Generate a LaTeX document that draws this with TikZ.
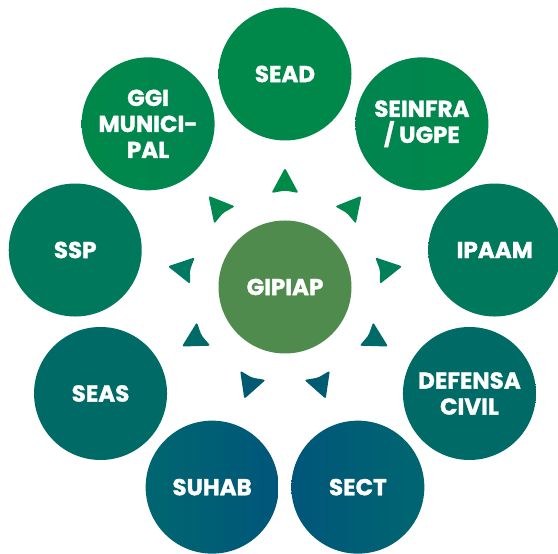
\documentclass[tikz,border=0pt]{standalone}
\usepackage{fontspec}
\setmainfont{Poppins}[BoldFeatures={FakeBold=1.3}]
\usetikzlibrary{calc}
\definecolor{centro}{HTML}{4F8B4D}
\definecolor{verdeA}{HTML}{00884A}
\definecolor{verdeB}{HTML}{008550}
\definecolor{verdeC}{HTML}{00785B}
\definecolor{tealA}{HTML}{006B66}
\definecolor{tealB}{HTML}{006670}
\definecolor{azul}{HTML}{00567A}
\definecolor{setaA}{HTML}{008A48}
\definecolor{setaB}{HTML}{00884F}
\definecolor{setaC}{HTML}{007F58}
\definecolor{setaD}{HTML}{006A68}
\definecolor{setaE}{HTML}{005A72}
\definecolor{setaF}{HTML}{007A62}
\begin{document}
\begin{tikzpicture}[x=1pt, y=1pt, line join=round,
	font=\fontsize{23}{26}\selectfont\bfseries,
	orgao/.style={circle, minimum size=133pt, inner sep=0pt, align=center, text=white}]
	\useasboundingbox (0,0) rectangle (558,554);
	\def\R{213}
	\def\d{105}
	% centro
	\node[orgao, fill=centro] (gipiap) at (285,267) {GIPIAP};
	% orgaos em volta
	\foreach \n/\a/\corE/\corD/\t in {
		sead/90/verdeA/verdeA/{SEAD},
		seinfra/50/verdeB/verdeA/{SEINFRA\\/ UGPE},
		ipaam/10/verdeC/verdeC/{IPAAM},
		defesa/-30/tealA/tealA/{DEFENSA\\CIVIL},
		sect/-70/azul/tealB/{SECT},
		suhab/-110/tealB/azul/{SUHAB},
		seas/-150/tealA/tealA/{SEAS},
		ssp/170/verdeC/verdeC/{SSP},
		ggi/130/verdeA/verdeB/{GGI\\MUNICI-\\PAL}}
	\node[orgao, left color=\corE, right color=\corD] (\n) at ($(gipiap)+(\a:\R)$) {\t};
	% setas
	\foreach \a/\c in {90/setaA,50/setaB,10/setaC,-30/setaD,-70/setaE,-110/setaE,-150/setaD,170/setaF,130/setaB}
	\fill[\c, rounded corners=2pt, shift={(gipiap.center)}, shift={(\a:\d)}, rotate=\a]
	(14,0) -- (-11,13.5) -- (-8.5,0) -- (-11,-13.5) -- cycle;
\end{tikzpicture}
\end{document}
